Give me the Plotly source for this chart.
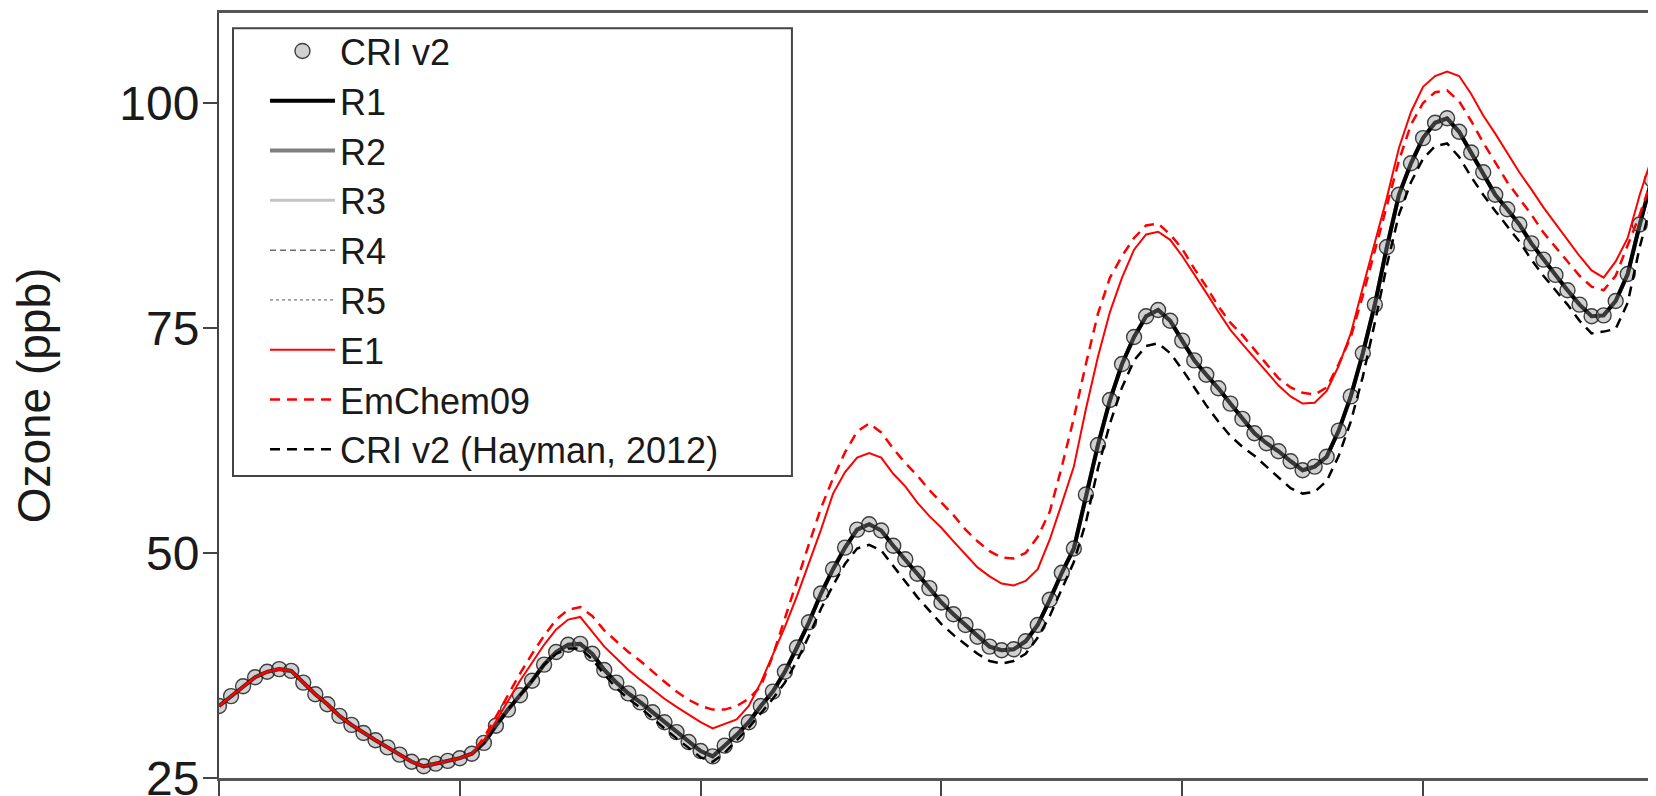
import plotly.graph_objects as go

# ---------------- data (hours since start, ozone in ppb) ----------------
hours = list(range(121))

cri_v2 = [33.0, 34.1, 35.2, 36.2, 36.8, 37.1, 36.9, 35.6, 34.3, 33.2,
          31.9, 30.9, 30.0, 29.2, 28.4, 27.6, 26.8, 26.3, 26.6, 26.9,
          27.2, 27.7, 28.9, 30.8, 32.6, 34.2, 35.8, 37.6, 39.0, 39.8,
          39.9, 38.8, 37.0, 35.6, 34.4, 33.4, 32.3, 31.2, 30.1, 29.0,
          28.0, 27.4, 28.6, 29.8, 31.2, 33.0, 34.6, 36.8, 39.5, 42.3,
          45.5, 48.2, 50.6, 52.6, 53.2, 52.5, 50.8, 49.3, 47.7, 46.1,
          44.5, 43.2, 42.0, 40.7, 39.6, 39.2, 39.3, 40.2, 42.0, 44.8,
          47.8, 50.5, 56.5, 62.0, 67.0, 71.0, 74.0, 76.3, 77.0, 75.8,
          73.6, 71.4, 69.8, 68.3, 66.6, 64.9, 63.3, 62.2, 61.3, 60.2,
          59.2, 59.6, 60.7, 63.6, 67.4, 72.2, 77.6, 84.0, 89.8, 93.3,
          96.1, 97.8, 98.3, 96.8, 94.5, 92.3, 89.8, 88.2, 86.5, 84.4,
          82.6, 80.9, 79.2, 77.6, 76.3, 76.4, 78.0, 81.0, 86.5, 91.5,
          95.0]

# R1-R5 reproduce CRI v2 to within the line width
r1 = list(cri_v2)
r2 = list(cri_v2)
r3 = list(cri_v2)
r4 = list(cri_v2)
r5 = list(cri_v2)

e1 = [33.0, 34.1, 35.2, 36.2, 36.8, 37.1, 36.9, 35.6, 34.3, 33.2,
      31.9, 30.9, 30.0, 29.2, 28.4, 27.6, 26.8, 26.3, 26.6, 26.9,
      27.2, 27.7, 29.2, 31.3, 33.5, 35.8, 37.8, 39.8, 41.5, 42.6,
      42.9, 41.2, 39.6, 38.3, 37.0, 35.9, 34.8, 33.8, 32.9, 32.0,
      31.2, 30.5, 31.0, 31.5, 33.0, 35.6, 38.7, 41.8, 45.2, 48.8,
      52.6, 56.6, 59.0, 60.6, 61.1, 60.6, 58.8, 57.4, 55.6, 54.1,
      52.8, 51.3, 49.8, 48.4, 47.4, 46.6, 46.4, 46.9, 48.2, 51.5,
      55.5, 59.6, 66.0, 71.8, 76.8, 80.6, 83.7, 85.4, 85.7, 84.8,
      83.0, 81.0, 78.9, 76.8, 74.8, 73.2, 71.7, 70.2, 68.6, 67.4,
      66.6, 66.7, 68.0, 70.8, 74.4, 79.5, 84.6, 89.5, 95.0, 99.0,
      101.8, 103.0, 103.5, 103.0, 101.0, 98.6, 96.6, 94.4, 92.3, 90.4,
      88.4, 86.6, 84.8, 83.0, 81.4, 80.6, 82.4, 85.0, 89.8, 94.0,
      98.0]

emchem09 = [33.0, 34.1, 35.2, 36.2, 36.8, 37.1, 36.9, 35.6, 34.3, 33.2,
            31.9, 30.9, 30.0, 29.2, 28.4, 27.6, 26.8, 26.3, 26.6, 26.9,
            27.2, 27.7, 29.5, 31.8, 34.2, 36.6, 38.8, 40.8, 42.6, 43.7,
            44.0, 43.0, 41.4, 40.2, 39.0, 38.0, 36.8, 35.7, 34.6, 33.7,
            33.0, 32.6, 32.6, 33.0, 33.8, 35.2, 38.6, 42.8, 46.8, 51.0,
            55.0, 58.3, 61.2, 63.5, 64.4, 63.4, 61.6, 60.0, 58.6, 57.0,
            55.6, 54.2, 52.6, 51.3, 50.2, 49.5, 49.4, 50.0, 51.8, 54.6,
            59.6, 65.0, 71.0, 76.6, 80.6, 83.0, 85.0, 86.4, 86.6, 85.4,
            83.8, 81.6, 79.6, 77.4, 75.6, 74.2, 72.6, 71.0, 69.4, 68.4,
            67.8, 67.6, 68.4, 71.0, 74.0, 78.6, 83.6, 88.6, 93.6, 97.6,
            100.0, 101.2, 101.4, 100.2, 98.0, 95.6, 93.4, 91.2, 89.4, 87.6,
            85.6, 84.0, 82.4, 80.8, 79.6, 79.2, 80.8, 84.2, 87.6, 91.5,
            95.0]

hayman = [33.0, 34.1, 35.2, 36.2, 36.8, 37.1, 36.9, 35.6, 34.3, 33.2,
          31.9, 30.9, 30.0, 29.2, 28.4, 27.6, 26.8, 26.3, 26.6, 26.9,
          27.2, 27.7, 28.9, 30.8, 32.6, 34.2, 35.8, 37.6, 38.8, 39.4,
          39.4, 38.2, 36.5, 35.0, 33.8, 32.8, 31.6, 30.5, 29.4, 28.3,
          27.3, 26.8, 27.8, 29.2, 30.6, 32.2, 33.8, 35.6, 38.0, 40.8,
          43.8, 46.4, 48.8, 50.5, 50.9, 50.3, 48.6, 46.8, 45.1, 43.6,
          42.1, 40.9, 39.8, 38.8, 38.0, 37.7, 38.0, 38.8, 40.6, 43.0,
          46.0, 49.0, 53.4, 59.4, 64.4, 68.4, 71.4, 73.0, 73.3, 72.2,
          70.4, 68.4, 66.4, 64.6, 63.0, 61.8, 60.8, 59.6, 58.4, 57.2,
          56.6, 56.8, 58.0, 60.8, 64.6, 69.6, 75.6, 82.0, 87.6, 91.2,
          93.8, 95.2, 95.5, 94.0, 91.8, 89.8, 88.0, 86.3, 84.6, 82.6,
          80.8, 79.2, 77.6, 75.8, 74.4, 74.6, 74.9, 77.8, 84.0, 89.0,
          93.0]

y_ticks = [25, 50, 75, 100]
x_ticks = [0, 20, 40, 60, 80, 100]

FONT = "Arial, 'Liberation Sans', sans-serif"

fig = go.Figure()

# drawing order (bottom -> top); legend order set with legendrank
fig.add_trace(go.Scatter(x=hours, y=r2, mode="lines", name="R2", legendrank=3,
                         line=dict(color="#7f7f7f", width=4)))
fig.add_trace(go.Scatter(x=hours, y=r3, mode="lines", name="R3", legendrank=4,
                         line=dict(color="#c4c4c4", width=3)))
fig.add_trace(go.Scatter(x=hours, y=r4, mode="lines", name="R4", legendrank=5,
                         line=dict(color="#6e6e6e", width=1.5, dash="6px,4px")))
fig.add_trace(go.Scatter(x=hours, y=r5, mode="lines", name="R5", legendrank=6,
                         line=dict(color="#555555", width=1, dash="dot")))
fig.add_trace(go.Scatter(x=hours, y=r1, mode="lines", name="R1", legendrank=2,
                         line=dict(color="#000000", width=4)))
fig.add_trace(go.Scatter(x=hours, y=cri_v2, mode="markers", name="CRI v2", legendrank=1,
                         marker=dict(symbol="circle", size=15,
                                     color="rgba(140,140,140,0.4)",
                                     line=dict(color="rgba(20,20,20,0.8)", width=1.4))))
fig.add_trace(go.Scatter(x=hours, y=hayman, mode="lines", name="CRI v2 (Hayman, 2012)",
                         legendrank=9,
                         line=dict(color="#000000", width=2.5, dash="10px,7px")))
fig.add_trace(go.Scatter(x=hours, y=emchem09, mode="lines", name="EmChem09", legendrank=8,
                         line=dict(color="#ff0000", width=2.5, dash="10px,7px")))
fig.add_trace(go.Scatter(x=hours, y=e1, mode="lines", name="E1", legendrank=7,
                         line=dict(color="#ff0000", width=2)))

# the page body adds an 8px offset, so the figure is 8px smaller on each side
fig.update_layout(
    width=1648, height=788,
    margin=dict(l=211, r=0, t=5, b=18, pad=0, autoexpand=False),
    paper_bgcolor="white", plot_bgcolor="white",
    font=dict(family=FONT, color="#1a1a1a"),
    showlegend=True,
    legend=dict(x=0.032, y=0.9895, xanchor="left", yanchor="top",
                bgcolor="rgba(0,0,0,0)", borderwidth=0,
                font=dict(family=FONT, size=36, color="#1a1a1a"),
                itemwidth=65, traceorder="normal"),
    shapes=[dict(type="rect", xref="paper", yref="paper",
                 x0=0.00974, x1=0.3987, y0=0.3948, y1=0.98,
                 line=dict(color="#444444", width=2), fillcolor="white", layer="below")],
    xaxis=dict(range=[0, 119.35], tickvals=x_ticks, showticklabels=False,
               ticks="outside", ticklen=18, tickwidth=2, tickcolor="#444444",
               showline=True, linecolor="#555555", linewidth=2.5, mirror=True,
               showgrid=False, zeroline=False, automargin=False),
    yaxis=dict(range=[25, 110], tickvals=y_ticks,
               ticks="outside", ticklen=14, tickwidth=2, tickcolor="#444444",
               ticklabelstandoff=-6, ticklabeloverflow="allow",
               tickfont=dict(family=FONT, size=48, color="#1a1a1a"),
               showline=True, linecolor="#444444", linewidth=2,
               showgrid=False, zeroline=False, automargin=False,
               title=dict(text="Ozone (ppb)", standoff=68,
                          font=dict(family=FONT, size=46, color="#1a1a1a"))),
)

fig.write_html("out.html")
